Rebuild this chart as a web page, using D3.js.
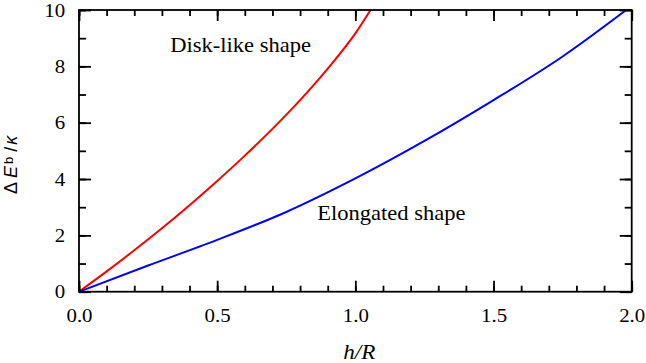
<!DOCTYPE html>
<html>
<head>
<meta charset="utf-8">
<script src="https://cdn.jsdelivr.net/npm/d3@7"></script>
<style>
  body { margin: 0; background: #fff; }
  svg { display: block; }
</style>
</head>
<body>
<div id="chart"></div>
<script>
// Data
const diskH = [0, 0.1, 0.2, 0.3, 0.4, 0.5, 0.6, 0.7, 0.8, 0.9, 1.0, 1.055];
const diskE = [0, 0.72, 1.47, 2.25, 3.07, 3.93, 4.83, 5.78, 6.8, 7.92, 9.17, 10];

const longH = [0, 0.25, 0.5, 0.75, 1.0, 1.25, 1.5, 1.75, 1.98];
const longE = [0, 0.93, 1.84, 2.83, 4.02, 5.35, 6.8, 8.35, 10];

const xMajor = [0, 0.5, 1.0, 1.5, 2.0];
const xMinor = d3.range(0, 2.01, 0.1);
const yMajor = [0, 2, 4, 6, 8, 10];
const yMinor = d3.range(0, 10.1, 1);

const W = 646, H = 363;
const margin = { top: 10, right: 14.3, bottom: 71.3, left: 79 };
const width = W - margin.left - margin.right;
const height = H - margin.top - margin.bottom;
const serif = '"Liberation Serif", "Times New Roman", serif';
const stretch = 1.1; // text in the picture is a bit wider than tall

const svg = d3.select('#chart').append('svg')
    .attr('width', W)
    .attr('height', H);

const g = svg.append('g')
    .attr('transform', `translate(${margin.left},${margin.top})`);

const x = d3.scaleLinear().domain([0, 2]).range([0, width]);
const y = d3.scaleLinear().domain([0, 10]).range([height, 0]);

// clip for curves
g.append('clipPath').attr('id', 'clip')
  .append('rect').attr('width', width).attr('height', height);

// curves
const line = d3.line()
    .curve(d3.curveMonotoneX)
    .x(d => x(d[0]))
    .y(d => y(d[1]));

g.append('path')
    .datum(diskH.map((h, i) => [h, diskE[i]]))
    .attr('clip-path', 'url(#clip)')
    .attr('fill', 'none')
    .attr('stroke', '#ff0000')
    .attr('stroke-width', 2)
    .attr('d', line);

g.append('path')
    .datum(longH.map((h, i) => [h, longE[i]]))
    .attr('clip-path', 'url(#clip)')
    .attr('fill', 'none')
    .attr('stroke', '#0000ff')
    .attr('stroke-width', 2)
    .attr('d', line);

// axes: minor ticks first, then majors with labels
function styleAxis(sel) {
    sel.select('.domain').remove();
    sel.selectAll('line').attr('stroke', '#000').attr('stroke-width', 1.8);
    sel.selectAll('text')
        .attr('fill', '#000')
        .style('font-family', serif)
        .style('font-size', '19px');
}

const noLabel = () => '';

// bottom
g.append('g').attr('transform', `translate(0,${height})`)
    .call(d3.axisBottom(x).tickValues(xMinor).tickSize(-6).tickFormat(noLabel))
    .call(styleAxis);
const bottom = g.append('g').attr('transform', `translate(0,${height})`)
    .call(d3.axisBottom(x).tickValues(xMajor).tickSize(-11).tickPadding(17)
        .tickFormat(d3.format('.1f')))
    .call(styleAxis);
bottom.selectAll('text').attr('transform', `scale(${stretch},1)`);

// top
g.append('g')
    .call(d3.axisTop(x).tickValues(xMinor).tickSize(-6).tickFormat(noLabel))
    .call(styleAxis);
g.append('g')
    .call(d3.axisTop(x).tickValues(xMajor).tickSize(-11).tickFormat(noLabel))
    .call(styleAxis);

// left
g.append('g')
    .call(d3.axisLeft(y).tickValues(yMinor).tickSize(-7).tickFormat(noLabel))
    .call(styleAxis);
const left = g.append('g')
    .call(d3.axisLeft(y).tickValues(yMajor).tickSize(-12).tickPadding(12.5)
        .tickFormat(d3.format('d')))
    .call(styleAxis);
left.selectAll('text').attr('transform', `scale(${stretch},1)`);

// right
g.append('g').attr('transform', `translate(${width},0)`)
    .call(d3.axisRight(y).tickValues(yMinor).tickSize(-7).tickFormat(noLabel))
    .call(styleAxis);
g.append('g').attr('transform', `translate(${width},0)`)
    .call(d3.axisRight(y).tickValues(yMajor).tickSize(-12).tickFormat(noLabel))
    .call(styleAxis);

// frame
g.append('rect')
    .attr('width', width)
    .attr('height', height)
    .attr('fill', 'none')
    .attr('stroke', '#000')
    .attr('stroke-width', 1.8);

// annotations
function note(px, py, txt) {
    g.append('text')
        .attr('transform', `translate(${px},${py}) scale(${stretch},1)`)
        .style('font-family', serif)
        .style('font-size', '20.5px')
        .attr('fill', '#000')
        .text(txt);
}
note(x(0.33), y(8.5), 'Disk-like shape');
note(x(0.862), y(2.56), 'Elongated shape');

// x axis title
svg.append('text')
    .attr('transform', `translate(${margin.left + width / 2 + 4},${H - 4}) scale(${stretch},1)`)
    .attr('text-anchor', 'middle')
    .style('font-family', serif)
    .style('font-size', '21px')
    .style('font-style', 'italic')
    .text('h/R');

// y axis title
const yt = svg.append('text')
    .attr('transform', `translate(17,${margin.top + height / 2 + 14}) rotate(-90)`)
    .attr('text-anchor', 'middle')
    .style('font-family', '"Liberation Sans", Arial, sans-serif')
    .style('font-size', '18px')
    .attr('fill', '#000');
yt.append('tspan').text('Δ');
yt.append('tspan').attr('dx', 4).style('font-style', 'italic').text('E');
yt.append('tspan').attr('dx', 2).attr('dy', -4).style('font-size', '13px').text('b');
yt.append('tspan').attr('dx', 5).attr('dy', 4).text('/');
yt.append('tspan').attr('dx', 2).style('font-style', 'italic').text('κ');
</script>
</body>
</html>
